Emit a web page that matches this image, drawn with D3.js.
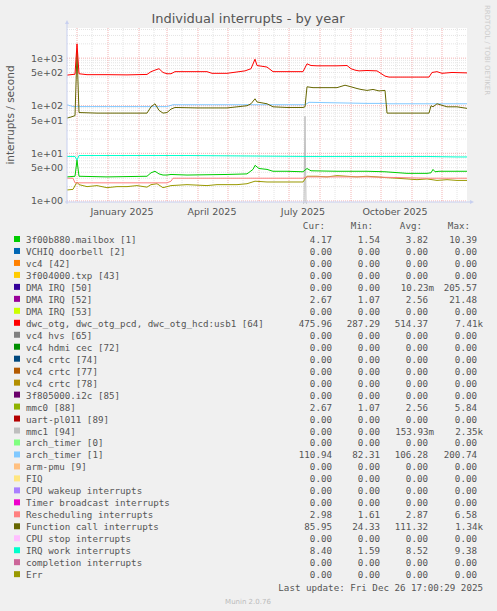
<!DOCTYPE html>
<html><head><meta charset="utf-8">
<script src="https://cdn.jsdelivr.net/npm/d3@7"></script>
<style>
body{margin:0;background:#f0f0f0;}
text{font-family:"DejaVu Sans",sans-serif;}
.mono{font-family:"DejaVu Sans Mono",monospace;font-size:9.2px;fill:#555;}
</style></head><body>
<svg id="chart" width="497" height="611"></svg>
<script>
// time points (days after 2024-11-21) and values
const redDays = [0,4,8,10,12,20,40,60,80,84,88,92,96,100,104,108,120,140,145,160,178,184,188,190,194,200,206,220,236,240,244,250,270,280,284,288,292,300,310,318,322,340,362,365,370,375,385,400];
const redVals = [440,450,460,2000,470,450,450,445,455,520,560,600,500,470,470,520,520,520,480,480,540,600,950,700,680,650,520,520,520,760,700,690,690,700,600,560,540,550,540,420,400,400,400,500,520,480,500,490];
const fcDays = [0,4,8,10,12,30,60,80,84,88,92,96,100,104,108,130,160,180,184,188,190,200,206,220,236,238,240,246,270,278,284,290,294,300,306,312,318,320,340,362,364,366,370,380,390,400];
const fcVals = [55,58,62,1340,72,70,70,70,95,110,80,70,72,85,92,90,90,100,110,140,120,110,95,92,92,95,250,240,240,270,250,230,220,210,220,205,210,70,70,70,100,95,110,95,95,88];
const atDays = [0,6,40,100,106,200,238,242,300,318,322,400];
const atVals = [105,96,96,96,105,105,105,118,112,112,110,110];
const iwDays = [0,8,10,12,60,120,180,240,300,360,390,400];
const iwVals = [8.6,8.6,7.2,9,9,9,8.8,8.6,8.6,8.6,8.4,8.4];
const mbDays = [0,8,10,12,40,80,84,88,92,96,100,104,120,160,180,186,188,192,200,206,220,236,240,244,270,300,318,340,360,364,366,368,372,400];
const mbVals = [3.2,3.3,7.2,3.3,3.2,3.3,3.9,4.2,3.7,3.5,3.5,3.6,3.5,3.6,3.7,4.6,5.6,4.8,4.6,4.2,4.2,4.1,4.8,4.3,4.2,4.2,4.1,3.8,3.8,3.9,4.6,4.1,4.2,4.2];
const rsDays = [0,6,8,100,104,106,236,240,300,330,360,400];
const rsVals = [3.0,3.0,2.4,2.4,2.6,3.0,3.0,3.2,3.2,3.1,3.0,3.0];
const mmDays = [0,6,10,12,20,30,40,50,60,70,80,84,90,96,104,120,140,150,170,180,188,200,220,236,240,250,260,270,280,290,300,310,318,330,340,350,360,370,380,390,400];
const mmVals = [1.7,1.75,2.5,2.2,2.0,2.1,1.9,2.0,2.0,2.1,1.95,2.2,2.3,1.9,2.1,2.2,2.1,2.2,2.2,2.3,2.6,2.5,2.5,2.5,3.3,3.3,3.2,3.4,3.3,3.2,3.3,3.2,3.1,3.0,2.9,2.8,2.9,2.7,2.8,2.7,2.7];
const spDays = [236,237,238,239,240];
const spVals = [0.9,0.9,60,0.9,0.9];

const series = [
  {days: spDays, vals: spVals, color: "#BEBEBE"},
  {days: mmDays, vals: mmVals, color: "#999900"},
  {days: rsDays, vals: rsVals, color: "#FF8080"},
  {days: mbDays, vals: mbVals, color: "#00CC00"},
  {days: iwDays, vals: iwVals, color: "#00FFCC"},
  {days: atDays, vals: atVals, color: "#80C9FF"},
  {days: fcDays, vals: fcVals, color: "#666600"},
  {days: redDays, vals: redVals, color: "#FF0000"}
];

const legendNames = ["3f00b880.mailbox [1]","VCHIQ doorbell [2]","vc4 [42]","3f004000.txp [43]","DMA IRQ [50]","DMA IRQ [52]","DMA IRQ [53]","dwc_otg, dwc_otg_pcd, dwc_otg_hcd:usb1 [64]","vc4 hvs [65]","vc4 hdmi cec [72]","vc4 crtc [74]","vc4 crtc [77]","vc4 crtc [78]","3f805000.i2c [85]","mmc0 [88]","uart-pl011 [89]","mmc1 [94]","arch_timer [0]","arch_timer [1]","arm-pmu [9]","FIQ","CPU wakeup interrupts","Timer broadcast interrupts","Rescheduling interrupts","Function call interrupts","CPU stop interrupts","IRQ work interrupts","completion interrupts","Err"];
const legendColors = ["#00CC00","#0066B3","#FF8000","#FFCC00","#330099","#990099","#CCFF00","#FF0000","#808080","#008F00","#00487D","#B35A00","#B38F00","#6B006B","#8FB300","#B30000","#BEBEBE","#80FF80","#80C9FF","#FFC080","#FFE680","#AA80FF","#EE00CC","#FF8080","#666600","#FFBFFF","#00FFCC","#CC6699","#999900"];
const z = "0.00";
const legendCur = ["4.17",z,z,z,z,"2.67",z,"475.96",z,z,z,z,z,z,"2.67",z,z,z,"110.94",z,z,z,z,"2.98","85.95",z,"8.40",z,z];
const legendMin = ["1.54",z,z,z,z,"1.07",z,"287.29",z,z,z,z,z,z,"1.07",z,z,z,"82.31",z,z,z,z,"1.61","24.33",z,"1.59",z,z];
const legendAvg = ["3.82",z,z,z,"10.23m","2.56",z,"514.37",z,z,z,z,z,z,"2.56",z,"153.93m",z,"106.28",z,z,z,z,"2.87","111.32",z,"8.52",z,z];
const legendMax = ["10.39",z,z,z,"205.57","21.48",z,"7.41k",z,z,z,z,z,z,"5.84",z,"2.35k",z,"200.74",z,z,z,z,"6.58","1.34k",z,"9.38",z,z];
const yTicks = [1,5,10,50,100,500,1000];
const monthLabels = ["January 2025","April 2025","July 2025","October 2025"];

const svg = d3.select("#chart");
const L = 67, R = 467, T = 28, B = 202;
const start = new Date(2024,10,21);
const dayDate = d => d3.timeDay.offset(start, d);
const x = d3.scaleTime().domain([start, new Date(2025,11,26)]).range([L, R]);
const y = d3.scaleLog().domain([0.95, 4300]).range([B, T]);

svg.append("rect").attr("x",L).attr("y",T).attr("width",R-L).attr("height",B-T).attr("fill","#fff");

// grid
const g = svg.append("g");
for (let e = 0; e <= 3; e++) for (let m = 1; m <= 9; m++) {
  const v = m * Math.pow(10, e);
  if (v < 0.95 || v > 4300) continue;
  g.append("line").attr("x1",L).attr("x2",R).attr("y1",y(v)).attr("y2",y(v))
    .attr("stroke", m===1 ? "#f0a0a0" : "#ddd").attr("stroke-dasharray","1,1").attr("stroke-width",0.8);
}
const halfMonths = [];
d3.timeMonth.range(start, new Date(2025,11,27)).forEach(d => halfMonths.push(d3.timeDay.offset(d,15)));
halfMonths.forEach(d => g.append("line").attr("x1",x(d)).attr("x2",x(d)).attr("y1",T).attr("y2",B)
  .attr("stroke","#ddd").attr("stroke-dasharray","1,1").attr("stroke-width",0.8));
d3.timeMonth.range(d3.timeDay.offset(start,1), new Date(2025,11,27)).forEach(d =>
  g.append("line").attr("x1",x(d)).attr("x2",x(d)).attr("y1",T).attr("y2",B)
    .attr("stroke","#f0a0a0").attr("stroke-dasharray","1,1").attr("stroke-width",0.8));

// lines
const line = d3.line().x(d => x(dayDate(d[0]))).y(d => y(d[1]));
series.forEach(s => {
  svg.append("path").datum(s.days.map((d,i) => [d, s.vals[i]]))
    .attr("d", line).attr("fill","none").attr("stroke", s.color).attr("stroke-width",1);
});

// axes
svg.append("line").attr("x1",L).attr("x2",L).attr("y1",B+2).attr("y2",T-6).attr("stroke","#c8d0f0");
svg.append("path").attr("d",`M${L-2},${T-4}L${L},${T-8}L${L+2},${T-4}Z`).attr("fill","#c8d0f0");
svg.append("line").attr("x1",L-2).attr("x2",R+4).attr("y1",B).attr("y2",B).attr("stroke","#c8d0f0");
svg.append("path").attr("d",`M${R+3},${B-2}L${R+7},${B}L${R+3},${B+2}Z`).attr("fill","#c8d0f0");

yTicks.forEach(v => svg.append("text").attr("x",L-4).attr("y",y(v)+3.5).attr("text-anchor","end")
  .attr("font-size",9.5).attr("fill","#555").text(d3.format(".0e")(v).replace("e+","e+0")));
[new Date(2025,0,1),new Date(2025,3,1),new Date(2025,6,1),new Date(2025,9,1)].forEach((d,i) =>
  svg.append("text").attr("x",x(d3.timeDay.offset(d,14))).attr("y",215).attr("text-anchor","middle")
    .attr("font-size",9.5).attr("fill","#555").text(monthLabels[i]));

svg.append("text").attr("x",248).attr("y",23).attr("text-anchor","middle").attr("font-size",13).attr("fill","#555")
  .text("Individual interrupts - by year");
svg.append("text").attr("transform","translate(14,115) rotate(-90)").attr("text-anchor","middle")
  .attr("font-size",10.5).attr("fill","#555").text("interrupts / second");
svg.append("text").attr("transform","translate(485,5) rotate(90)").attr("font-size",7).attr("fill","#ccc")
  .text("RRDTOOL / TOBI OETIKER");

// legend
const colRight = [332,380,428,477];
[["Cur:",325],["Min:",373],["Avg:",422],["Max:",470]].forEach(h =>
  svg.append("text").attr("class","mono").attr("x",h[1]).attr("y",229).attr("text-anchor","end").text(h[0]));
const cols = [legendCur, legendMin, legendAvg, legendMax];
legendNames.forEach((n,i) => {
  const yy = 243 + i*11.97;
  svg.append("rect").attr("x",14).attr("y",yy-7).attr("width",6).attr("height",6).attr("fill",legendColors[i]);
  svg.append("text").attr("class","mono").attr("x",26).attr("y",yy).text(n);
  cols.forEach((c,j) => {
    const v = c[i], suf = /[mk]$/.test(v);
    svg.append("text").attr("class","mono").attr("x", colRight[j] + (suf ? 6 : 0)).attr("y",yy)
      .attr("text-anchor","end").text(v);
  });
});
svg.append("text").attr("class","mono").attr("x",483).attr("y",591).attr("text-anchor","end")
  .text("Last update: Fri Dec 26 17:00:29 2025");
svg.append("text").attr("x",248).attr("y",604).attr("text-anchor","middle").attr("font-size",7).attr("fill","#bbb")
  .text("Munin 2.0.76");
</script></body></html>
